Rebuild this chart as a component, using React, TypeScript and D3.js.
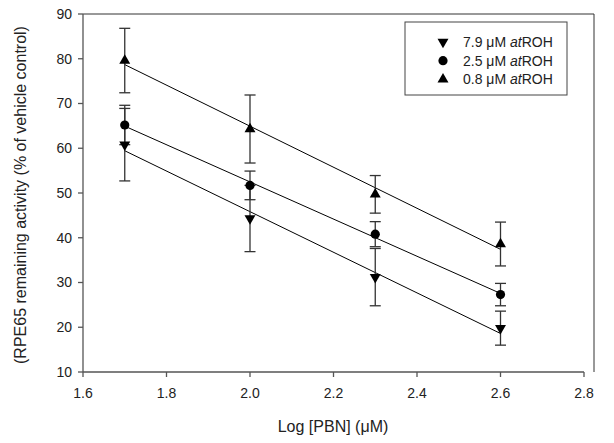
import { useMemo } from "react"
import * as d3 from "d3"

// Log [PBN] (uM) positions of the measurements
const logPBN = [1.7, 2.0, 2.3, 2.6]

// mean remaining activity and error for each atROH dose
const series = [
  { dose: "7.9", marker: "down", mean: [60.8, 44.3, 31.2, 19.8], err: [8.1, 7.4, 6.4, 3.8] },
  { dose: "2.5", marker: "circle", mean: [65.2, 51.7, 40.8, 27.3], err: [4.4, 3.2, 2.8, 2.5] },
  { dose: "0.8", marker: "up", mean: [79.6, 64.3, 49.7, 38.6], err: [7.2, 7.6, 4.2, 4.9] },
]

const xTicks = [1.6, 1.8, 2.0, 2.2, 2.4, 2.6, 2.8]
const yTicks = [10, 20, 30, 40, 50, 60, 70, 80, 90]

const W = 614
const H = 443
const margin = { top: 14, right: 30, bottom: 71, left: 83 }
const font = "'Liberation Sans', Arial, sans-serif"

function fit(xs: number[], ys: number[]) {
  const mx = d3.mean(xs)!
  const my = d3.mean(ys)!
  const sxy = d3.sum(xs, (x, i) => (x - mx) * (ys[i] - my))
  const sxx = d3.sum(xs, x => (x - mx) ** 2)
  const b = sxy / sxx
  return { a: my - b * mx, b }
}

function Marker({ kind, x, y }: { kind: string; x: number; y: number }) {
  if (kind === "circle") return <circle cx={x} cy={y} r={4.6} fill="#000" />
  const sym = d3.symbol(d3.symbolTriangle, 52)()!
  const rot = kind === "down" ? 180 : 0
  return <path d={sym} transform={`translate(${x},${y}) rotate(${rot})`} fill="#000" />
}

export default function App() {
  const x = useMemo(() => d3.scaleLinear().domain([1.6, 2.8]).range([margin.left, 584]), [])
  const y = useMemo(() => d3.scaleLinear().domain([10, 90]).range([372, margin.top]), [])

  const line = d3.line<number>().x(d => x(d)).y(d => d)

  return (
    <svg width={W} height={H} style={{ position: "absolute", left: 0, top: 0, background: "#fff" }} fontFamily={font}>
      {/* frame */}
      <line x1={x(1.6)} x2={594} y1={margin.top} y2={margin.top} stroke="#333" strokeWidth={1} />
      <line x1={594} x2={594} y1={margin.top} y2={372} stroke="#333" strokeWidth={1} />

      {/* y axis */}
      <line x1={x(1.6)} x2={x(1.6)} y1={y(10)} y2={y(90)} stroke="#555" strokeWidth={1.3} />
      {yTicks.map(t => (
        <g key={t}>
          <line x1={x(1.6) - 5} x2={x(1.6)} y1={y(t)} y2={y(t)} stroke="#555" strokeWidth={1.3} />
          <text x={72} y={y(t)} dy="0.35em" textAnchor="end" fontSize={14} fill="#222">{t}</text>
        </g>
      ))}
      <text transform={`translate(26,${(y(10) + y(90)) / 2 + 2}) rotate(-90)`} textAnchor="middle" fontSize={16} fill="#222">
        (RPE65 remaining activity (% of vehicle control)
      </text>

      {/* x axis */}
      <line x1={x(1.6)} x2={x(2.8)} y1={y(10)} y2={y(10)} stroke="#555" strokeWidth={1.3} />
      {xTicks.map(t => (
        <g key={t}>
          <line x1={x(t)} x2={x(t)} y1={y(10)} y2={y(10) + 5} stroke="#555" strokeWidth={1.3} />
          <text x={x(t)} y={398} textAnchor="middle" fontSize={14} fill="#222">{t.toFixed(1)}</text>
        </g>
      ))}
      <text x={333} y={432} textAnchor="middle" fontSize={16} fill="#222">
        Log [PBN] (<tspan>μ</tspan>M)
      </text>

      {/* regression lines */}
      {series.map(s => {
        const { a, b } = fit(logPBN, s.mean)
        const ends = [logPBN[0], logPBN[logPBN.length - 1]]
        const pts = ends.map(e => [x(e), y(a + b * e)] as [number, number])
        return <path key={s.dose + "l"} d={d3.line()(pts)!} stroke="#000" strokeWidth={1} fill="none" />
      })}

      {/* error bars */}
      {series.map(s =>
        logPBN.map((lx, i) => {
          const cx = x(lx)
          const lo = y(s.mean[i] - s.err[i])
          const hi = y(s.mean[i] + s.err[i])
          return (
            <g key={s.dose + lx} stroke="#333" strokeWidth={1.3}>
              <line x1={cx} x2={cx} y1={lo} y2={hi} />
              <line x1={cx - 5.5} x2={cx + 5.5} y1={lo} y2={lo} />
              <line x1={cx - 5.5} x2={cx + 5.5} y1={hi} y2={hi} />
            </g>
          )
        })
      )}

      {/* markers */}
      {series.map(s =>
        logPBN.map((lx, i) => <Marker key={s.dose + "m" + lx} kind={s.marker} x={x(lx)} y={y(s.mean[i])} />)
      )}

      {/* legend */}
      <rect x={405} y={22} width={162} height={73} fill="#fff" stroke="#444" strokeWidth={1} />
      {series.map((s, i) => (
        <g key={s.dose + "leg"}>
          <Marker kind={s.marker} x={443} y={42 + i * 18.7} />
          <text x={463} y={42 + i * 18.7} dy="0.35em" fontSize={14} fill="#222">
            {s.dose} μM <tspan fontStyle="italic">at</tspan>ROH
          </text>
        </g>
      ))}
    </svg>
  )
}
